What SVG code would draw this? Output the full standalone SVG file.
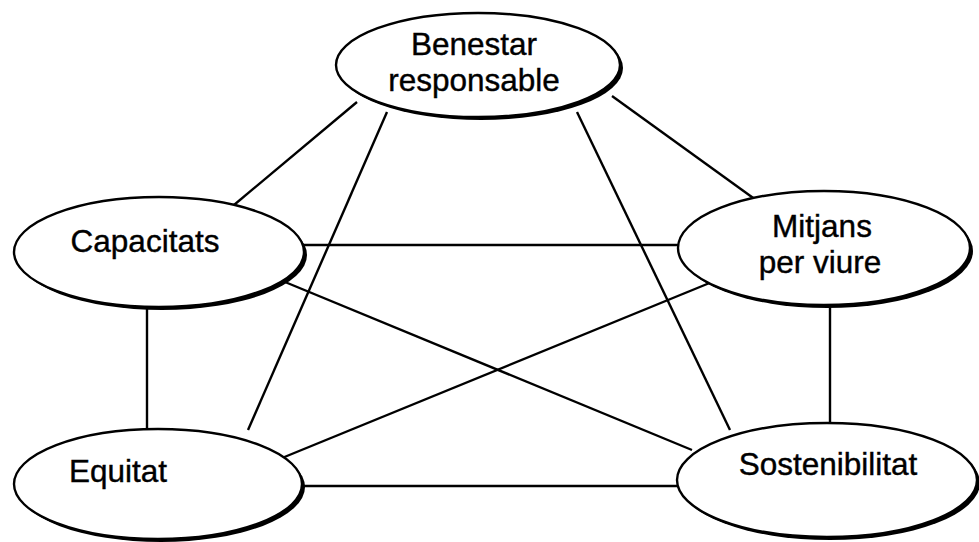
<svg xmlns="http://www.w3.org/2000/svg" width="979" height="542" viewBox="0 0 979 542">
<style>
.c line{stroke:#000;stroke-width:2.4;fill:none}
.sh{fill:#000}
.e{fill:#fff;stroke:#000;stroke-width:2.4}
text{font-family:"Liberation Sans",Arial,sans-serif;font-size:31.5px;fill:#000;stroke:#000;stroke-width:0.4;text-anchor:middle}
</style>
<rect width="979" height="542" fill="#fff"/>
<g class="c" id="connectors">
<line x1="357" y1="102" x2="228" y2="210"/>
<line x1="387" y1="112" x2="248" y2="430"/>
<line x1="577" y1="112" x2="730" y2="430"/>
<line x1="612" y1="96" x2="756" y2="200"/>
<line x1="300" y1="245" x2="680" y2="245"/>
<line x1="285" y1="282" x2="692" y2="450"/>
<line x1="147" y1="305" x2="147" y2="430"/>
<line x1="712" y1="282" x2="282" y2="458"/>
<line x1="830" y1="303" x2="830" y2="425"/>
<line x1="300" y1="486" x2="680" y2="486"/>
</g>
<g id="benestar">
<ellipse class="sh" cx="481" cy="68" rx="142" ry="52"/>
<ellipse class="e" cx="478" cy="65" rx="142" ry="52"/>
<text x="474" y="55">Benestar</text>
<text x="474" y="91">responsable</text>
</g>
<g id="capacitats">
<ellipse class="sh" cx="162" cy="255" rx="145" ry="55"/>
<ellipse class="e" cx="159" cy="252" rx="145" ry="55"/>
<text x="145" y="252">Capacitats</text>
</g>
<g id="mitjans">
<ellipse class="sh" cx="827" cy="251" rx="146" ry="57"/>
<ellipse class="e" cx="824" cy="248" rx="146" ry="57"/>
<text x="822" y="237">Mitjans</text>
<text x="820" y="273">per viure</text>
</g>
<g id="equitat">
<ellipse class="sh" cx="161" cy="487" rx="144" ry="55"/>
<ellipse class="e" cx="158" cy="484" rx="144" ry="55"/>
<text x="118" y="482">Equitat</text>
</g>
<g id="sostenibilitat">
<ellipse class="sh" cx="830" cy="483" rx="150" ry="57"/>
<ellipse class="e" cx="827" cy="480" rx="150" ry="57"/>
<text x="828" y="475">Sostenibilitat</text>
</g>
</svg>
